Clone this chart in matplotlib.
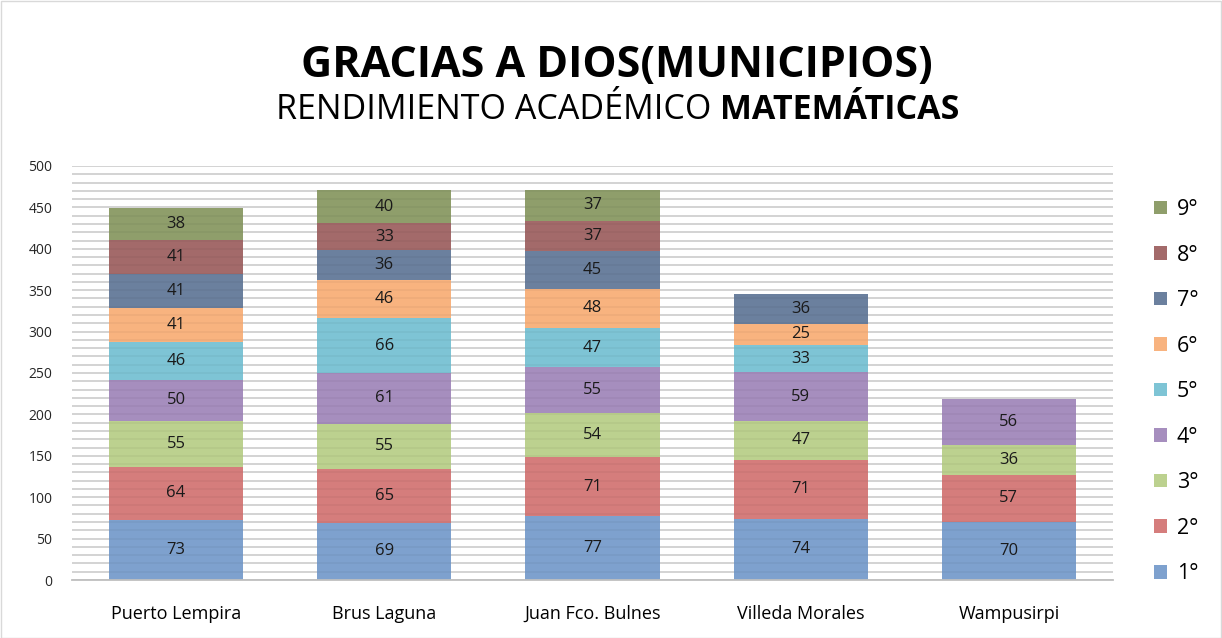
import matplotlib
matplotlib.use("Agg")
import matplotlib.pyplot as plt
import numpy as np
from matplotlib.patches import Patch

plt.rcParams['font.family'] = ['Open Sans', 'DejaVu Sans']

municipios = ["Puerto Lempira", "Brus Laguna", "Juan Fco. Bulnes", "Villeda Morales", "Wampusirpi"]
grados = ["1°", "2°", "3°", "4°", "5°", "6°", "7°", "8°", "9°"]
g1 = [73, 69, 77, 74, 70]
g2 = [64, 65, 71, 71, 57]
g3 = [55, 55, 54, 47, 36]
g4 = [50, 61, 55, 59, 56]
g5 = [46, 66, 47, 33, 0]
g6 = [41, 46, 48, 25, 0]
g7 = [41, 36, 45, 36, 0]
g8 = [41, 33, 37, 0, 0]
g9 = [38, 40, 37, 0, 0]
series = [g1, g2, g3, g4, g5, g6, g7, g8, g9]
colors = ["#7EA1CE", "#D57D7C", "#BCD18F", "#A68EBE", "#7EC4D5",
          "#F8B37F", "#6B809E", "#A36A6A", "#8F9E6B"]

W, H = 1222, 638
fig = plt.figure(figsize=(W / 100, H / 100), dpi=100)
ax = fig.add_axes([72 / W, 1 - 580 / H, (1113 - 72) / W, (580 - 166) / H])

x = np.arange(len(municipios))
bottom = np.zeros(len(municipios))
for vals, col, g in zip(series, colors, grados):
    vals = np.array(vals, dtype=float)
    ax.bar(x, vals, 0.645, bottom=bottom, color=col, zorder=2, label=g)
    for xi, v, b in zip(x, vals, bottom):
        if v > 0:
            ax.text(xi, b + v / 2, f"{int(v)}", ha="center", va="center",
                    fontsize=12, color="#1a1a1a", zorder=4)
    bottom += vals

ax.set_ylim(0, 500)
ax.set_xlim(-0.5, len(municipios) - 0.5)
ax.set_yticks(np.arange(0, 501, 50))
ax.set_yticks(np.arange(0, 501, 10), minor=True)
ax.grid(axis="y", which="both", color="#d9d9d9", linewidth=1.3, zorder=1)
for yv in np.arange(10, 501, 10):
    ax.axhline(yv, color="#000000", alpha=0.04, linewidth=1.3, zorder=3)
ax.tick_params(axis="y", which="both", length=0, labelsize=10, pad=14, colors="#262626")
ax.tick_params(axis="x", length=0, labelsize=13, pad=18, colors="#000000")
ax.set_xticks(x)
ax.set_xticklabels(municipios)
for s in ["top", "right", "left"]:
    ax.spines[s].set_visible(False)
ax.spines["bottom"].set_color("#bfbfbf")
ax.spines["bottom"].set_linewidth(1.3)

handles = [Patch(facecolor=c, label=g) for c, g in zip(colors, grados)][::-1]
fig.legend(handles=handles, loc="upper left", bbox_to_anchor=(1154 / W, 1 - 199 / H),
           frameon=False, fontsize=15.5, handlelength=0.6, handleheight=0.6,
           handletextpad=0.45, labelspacing=1.14, borderaxespad=0, borderpad=0)

fig.text(0.5 + 6 / W, 1 - 65 / H, "GRACIAS A DIOS(MUNICIPIOS)", ha="center", va="center",
         fontsize=31, fontweight="bold", color="#000000")

fig.canvas.draw()
r = fig.canvas.get_renderer()
t1 = fig.text(0, 1 - 110 / H, "RENDIMIENTO ACADÉMICO ", ha="left", va="center",
              fontsize=24.5, color="#000000")
t2 = fig.text(0, 1 - 110 / H, "MATEMÁTICAS", ha="left", va="center",
              fontsize=24.5, fontweight="bold", color="#000000")
w1 = t1.get_window_extent(r).width
w2 = t2.get_window_extent(r).width
start = (618 - (w1 + w2) / 2)
t1.set_x(start / W)
t2.set_x((start + w1) / W)

fig.patches.append(plt.Rectangle((0.5 / W, 0.5 / H), 1 - 1.5 / W, 1 - 1.5 / H,
                                 transform=fig.transFigure, fill=False,
                                 edgecolor="#d9d9d9", linewidth=1))
fig.savefig("out.png", dpi=100)
